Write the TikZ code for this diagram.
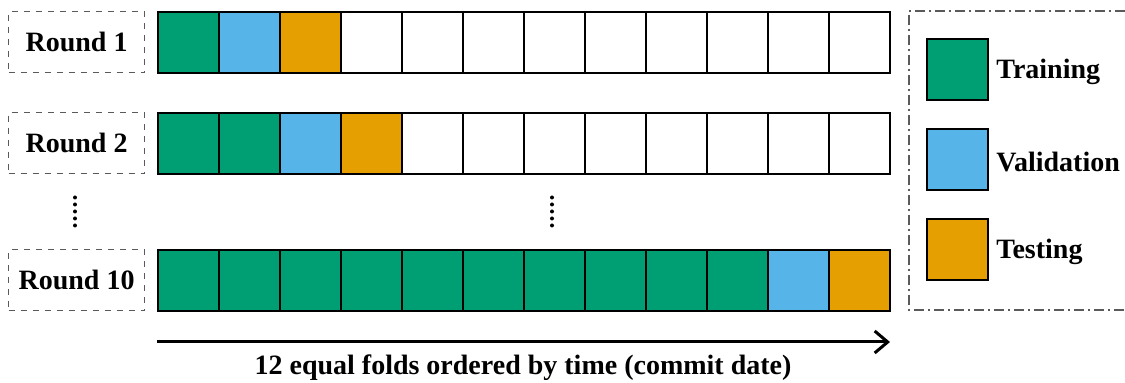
\documentclass[tikz,border=0pt]{standalone}
\usepackage{fontspec}
\setmainfont{Liberation Serif}
\usetikzlibrary{arrows.meta,positioning}
\definecolor{trn}{HTML}{009E73}
\definecolor{val}{HTML}{56B4E9}
\definecolor{tst}{HTML}{E69F00}
\definecolor{framegray}{HTML}{5A5A5A}

\begin{document}
\begin{tikzpicture}[
  x=0.5pt,y=-0.5pt,
  font=\bfseries\fontsize{14}{16}\selectfont,
  fold/.style={draw=black, line width=0.9pt, minimum width=30.5pt, minimum height=30.5pt, inner sep=0pt, anchor=north west},
  rlabel/.style={draw=framegray, dashed, line width=0.6pt, minimum width=68pt, minimum height=30.5pt, inner sep=0pt, anchor=north west},
  swatch/.style={draw=black, line width=0.9pt, minimum width=30.5pt, minimum height=30.5pt, inner sep=0pt, anchor=north west},
  legtxt/.style={anchor=west, inner sep=0pt},
  timearr/.style={-{Straight Barb[length=6.5pt,width=11pt]}, line width=1.5pt},
]
\useasboundingbox (0,0) rectangle (1125,383);

% round 1
\node[rlabel] (rnd1) at (8,11) {Round 1};
\foreach \c [count=\k] in {trn,val,tst,white,white,white,white,white,white,white,white,white}
  \node[fold,fill=\c] (r1c\k) at (96+61*\k,11) {};
% round 2
\node[rlabel] (rnd2) at (8,112) {Round 2};
\foreach \c [count=\k] in {trn,trn,val,tst,white,white,white,white,white,white,white,white}
  \node[fold,fill=\c] (r2c\k) at (96+61*\k,112) {};
% round 10
\node[rlabel] (rnd10) at (8,249) {Round 10};
\foreach \c [count=\k] in {trn,trn,trn,trn,trn,trn,trn,trn,trn,trn,val,tst}
  \node[fold,fill=\c] (r10c\k) at (96+61*\k,249) {};

% skipped rounds
\foreach \d in {0,...,4} {
  \fill (75,197.5+7*\d) circle (2);
  \fill (552,197.5+7*\d) circle (2);
}

% time axis
\coordinate (tstart) at (157,342);
\coordinate (tend) at (890,342);
\draw[timearr] (tstart) -- (tend);
\node (axis) at (523,368) {12 equal folds ordered by time (commit date)};

% legend
\draw[framegray, line width=0.6pt, dash pattern=on 5pt off 2pt on 1pt off 2pt] (1125,11) -| (909,310) -- (1125,310);
\foreach \y/\c/\t in {38/trn/Training,128/val/Validation,218/tst/Testing} {
  \node[swatch,fill=\c] (leg\c) at (926,\y) {};
  \node[legtxt] (lab\c) at (996,\y+34) {\t};
}

\end{tikzpicture}
\end{document}
